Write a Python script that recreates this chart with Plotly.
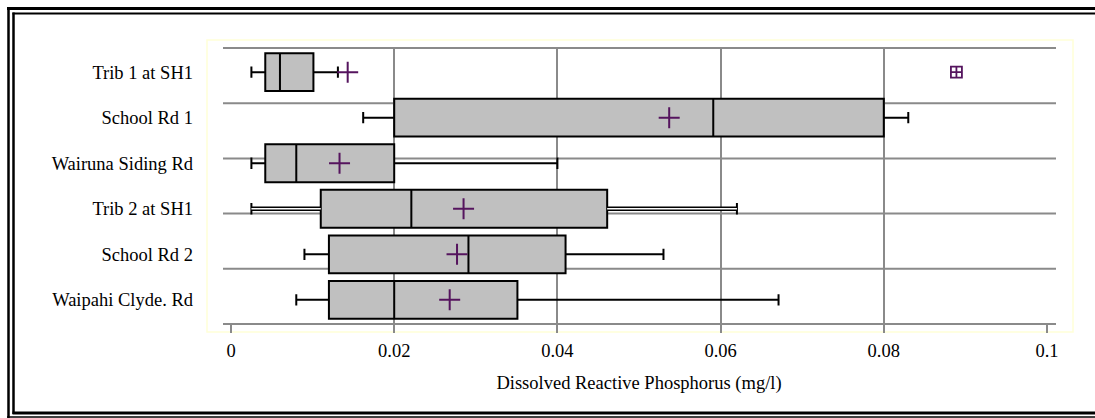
import plotly.graph_objects as go

# ---- data ----
sites = ["Trib 1 at SH1", "School Rd 1", "Wairuna Siding Rd",
         "Trib 2 at SH1", "School Rd 2", "Waipahi Clyde. Rd"]
positions = [0, 1, 2, 3, 4, 5]
minimum = [0.0025, 0.0162, 0.0025, 0.0025, 0.0090, 0.0080]
q1 = [0.0042, 0.0200, 0.0042, 0.0110, 0.0120, 0.0120]
median = [0.0060, 0.0591, 0.0080, 0.0221, 0.0291, 0.0200]
q3 = [0.0101, 0.0800, 0.0200, 0.0461, 0.0410, 0.0351]
maximum = [0.0131, 0.0830, 0.0400, 0.0620, 0.0530, 0.0671]
mean = [0.0143, 0.0537, 0.0133, 0.0285, 0.0277, 0.0268]
outlier_site = [0]
outlier_value = [0.0889]
x_ticks = [0, 0.02, 0.04, 0.06, 0.08, 0.1]
x_ticktext = ["0", "0.02", "0.04", "0.06", "0.08", "0.1"]

# ---- layout geometry (pixels) ----
W, H = 1095, 418
L, R, T, B = 231, 48, 48, 94
PW, PH = W - L - R, H - T - B


def px(x):
    return (x - L) / PW


def py(y):
    return (H - B - y) / PH


FONT = "Liberation Serif, Times New Roman, serif"
FS = 18.5
GRID = "#8a8a8a"
PURPLE = "#55145e"

fig = go.Figure()

fig.add_trace(go.Box(
    y=positions, q1=q1, median=median, q3=q3,
    lowerfence=minimum, upperfence=maximum,
    orientation="h", boxpoints=False, width=0.83, whiskerwidth=0.3,
    fillcolor="#c0c0c0", line=dict(color="black", width=2),
    hoverinfo="skip", showlegend=False,
))

# hollow (double) whisker for Trib 2 at SH1
i = 3
wx = [minimum[i], q1[i], None, q3[i], maximum[i]]
wy = [positions[i], positions[i], None, positions[i], positions[i]]
fig.add_trace(go.Scatter(x=wx, y=wy, mode="lines",
                         line=dict(color="black", width=4.5),
                         hoverinfo="skip", showlegend=False))
fig.add_trace(go.Scatter(x=wx, y=wy, mode="lines",
                         line=dict(color="white", width=1.5),
                         hoverinfo="skip", showlegend=False))

fig.add_trace(go.Scatter(
    x=mean, y=positions, mode="markers",
    marker=dict(symbol="cross-thin-open", size=15, color=PURPLE,
                line=dict(color=PURPLE, width=2)),
    hoverinfo="skip", showlegend=False,
))
fig.add_trace(go.Scatter(
    x=outlier_value, y=outlier_site, mode="markers",
    marker=dict(symbol="square-cross-open", size=11, color=PURPLE,
                line=dict(color=PURPLE, width=1.8)),
    hoverinfo="skip", showlegend=False,
))

shapes = []
# plot-area border (pale yellow)
shapes.append(dict(type="rect", xref="paper", yref="paper",
                   x0=px(207), x1=px(1073), y0=py(332), y1=py(40),
                   line=dict(color="#ffffd8", width=1.5), layer="below"))
# horizontal gridlines (5 equal divisions)
for k in range(6):
    shapes.append(dict(type="line", xref="paper", yref="paper",
                       x0=px(223), x1=px(1056), y0=k / 5, y1=k / 5,
                       line=dict(color=GRID, width=2), layer="below"))
# outer double frame
fr = "black"
shapes += [
    dict(type="line", xref="paper", yref="paper", x0=px(7), x1=px(1100),
         y0=py(8.5), y1=py(8.5), line=dict(color=fr, width=3)),
    dict(type="line", xref="paper", yref="paper", x0=px(12.5), x1=px(1100),
         y0=py(13.5), y1=py(13.5), line=dict(color=fr, width=2)),
    dict(type="line", xref="paper", yref="paper", x0=px(8.5), x1=px(8.5),
         y0=py(7), y1=py(418), line=dict(color=fr, width=2.5)),
    dict(type="line", xref="paper", yref="paper", x0=px(13.5), x1=px(13.5),
         y0=py(12.5), y1=py(414), line=dict(color=fr, width=2.5)),
    dict(type="line", xref="paper", yref="paper", x0=px(12.5), x1=px(1100),
         y0=py(413), y1=py(413), line=dict(color=fr, width=3)),
    dict(type="line", xref="paper", yref="paper", x0=px(7), x1=px(1100),
         y0=py(417), y1=py(417), line=dict(color=fr, width=1.5)),
]

fig.update_layout(
    width=W, height=H,
    margin=dict(l=L, r=R, t=T, b=B, pad=0),
    paper_bgcolor="white", plot_bgcolor="white",
    font=dict(family=FONT, size=FS, color="black"),
    shapes=shapes,
    xaxis=dict(
        range=[0, 0.1], tickvals=x_ticks, ticktext=x_ticktext,
        showgrid=True, gridcolor=GRID, gridwidth=2,
        zeroline=False, showline=False,
        ticks="outside", ticklen=8, tickwidth=2, tickcolor=GRID,
        ticklabelstandoff=2,
        title=dict(text="Dissolved Reactive Phosphorus (mg/l)",
                   font=dict(family=FONT, size=FS), standoff=15),
    ),
    yaxis=dict(
        range=[5.53, -0.53], tickvals=positions, ticktext=sites,
        showgrid=False, zeroline=False, showline=False, ticks="",
        ticklabelstandoff=37,
    ),
)

fig.write_html("out.html")
